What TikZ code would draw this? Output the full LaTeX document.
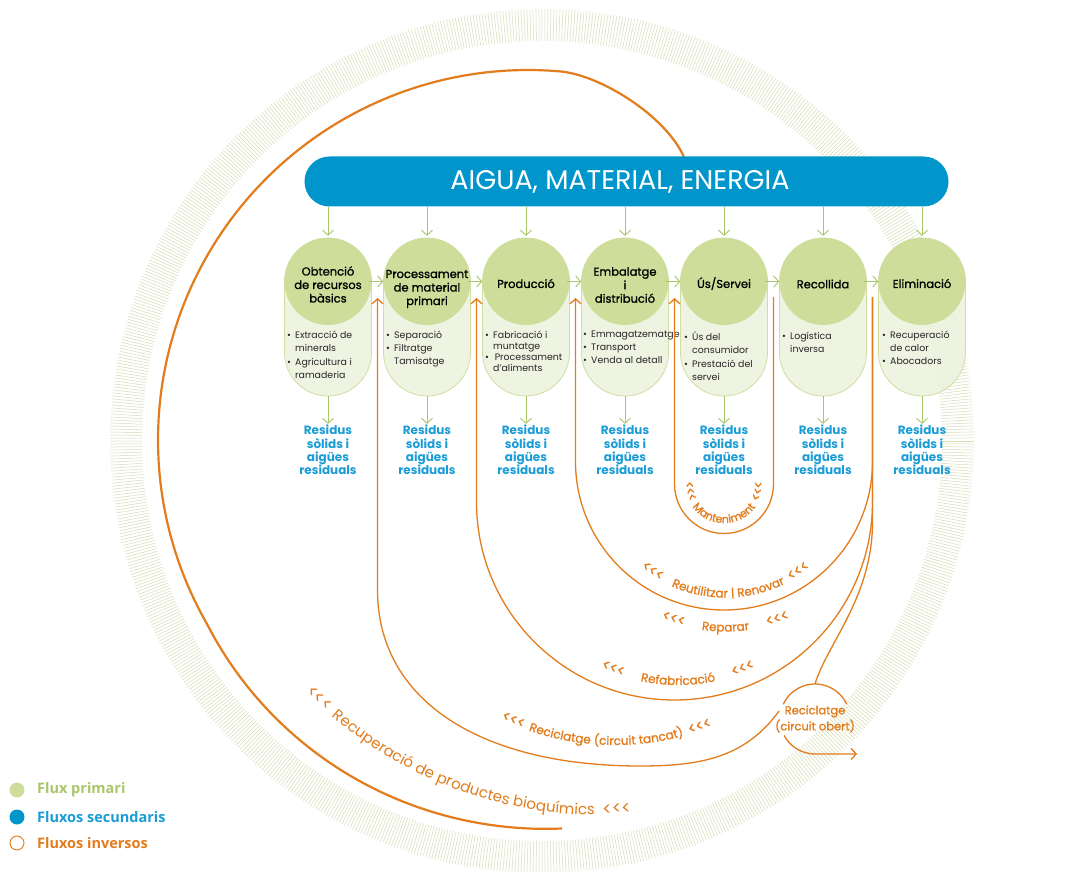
\documentclass[tikz,border=0pt]{standalone}
\usepackage{fontspec}
\setmainfont{Poppins}
\newfontfamily\pmed{Poppins}[FakeBold=1.1]
\newfontfamily\legendfont{Open Sans}
\usetikzlibrary{arrows.meta,decorations.text,calc}
\definecolor{cblue}{RGB}{0,150,204}
\definecolor{ctxtblue}{RGB}{26,156,214}
\definecolor{cgreen}{RGB}{206,222,154}
\definecolor{cpale}{RGB}{237,242,222}
\definecolor{cpaleline}{RGB}{208,222,160}
\definecolor{carrow}{RGB}{170,198,108}
\definecolor{corange}{RGB}{226,124,28}
\definecolor{cring}{RGB}{212,221,180}
\definecolor{clegend}{RGB}{168,199,104}
\newcommand{\mybul}{\makebox[8pt][l]{\textbullet}}
\newcommand{\mycont}{\hspace*{8pt}}
\newcommand{\olbl}{\pmed\fontsize{12}{12}\selectfont\color{corange}}
\newcommand{\olblb}{\pmed\fontsize{14.5}{14.5}\selectfont\color{corange}}
\newcommand{\mlbl}{\pmed\fontsize{11}{11}\selectfont\color{corange}}
\newcommand{\mlblb}{\pmed\fontsize{13}{13}\selectfont\color{corange}}
\newcommand{\biolbl}{\fontsize{15}{15}\selectfont\color{corange}}
\newcommand{\biolblb}{\fontsize{17.5}{17.5}\selectfont\color{corange}}
\begin{document}
\begin{tikzpicture}[x=1pt,y=-1pt,
  pill/.style={draw=cpaleline, line width=0.8pt, fill=cpale, fill opacity=0.85, rounded corners=43.5pt, minimum width=87pt, minimum height=158pt, inner sep=0pt},
  stagecirc/.style={circle, fill=cgreen, minimum size=87pt, inner sep=0pt},
  stitle/.style={align=center, font=\pmed\fontsize{11.5}{13.5}\selectfont, text=black, inner sep=0pt},
  blist/.style={align=left, anchor=north west, font=\fontsize{9.4}{13}\selectfont, text=black!85, inner sep=0pt},
  resid/.style={align=center, font=\fontsize{12}{13.4}\selectfont\bfseries, text=ctxtblue, inner sep=1pt},
  garrow/.style={draw=carrow, line width=0.9pt, -{Straight Barb[length=5pt,width=11pt]}},
  oline/.style={draw=corange, line width=1.3pt},
  oarrow/.style={oline, -{Straight Barb[length=5pt,width=11pt]}},
  othick/.style={draw=corange, line width=2.2pt},
  leg/.style={anchor=west, inner sep=0pt, font=\legendfont\bfseries\fontsize{14.5}{16}\selectfont},
  ]
\useasboundingbox (0,0) rectangle (1077,872);
\fill[white] (0,0) rectangle (1077,872);
% hatched ring
\foreach \i [evaluate=\i as \a using \i*0.4] in {0,...,899}
  \draw[cring, line width=0.5pt] ([shift={(\a:400)}]542,441) -- ([shift={(\a:432)}]542,441);

% coordinates
\coordinate (g1) at (377.5,298);
\coordinate (g2) at (476.5,298);
\coordinate (g3) at (575.5,298);
\coordinate (g4) at (674.5,298);
\coordinate (g5) at (773.5,297);
\coordinate (g6) at (872.5,297);
\coordinate (bartop) at (684,157);
\coordinate (tcs) at (779,711);
\coordinate (obtop) at (815,684);

% outer loop (spiral from bottom, round the left, to the bar)
\draw[othick] plot[domain=85:275, samples=120, variable=\t, smooth] ({528+(370+20*max(0,150-\t)/65)*cos(\t)},{440+(370+20*max(0,150-\t)/65)*sin(\t)}) .. controls (600,75) and (665,115) .. (bartop);

% blue bar
\node[fill=cblue, rounded corners=25pt, minimum width=644pt, minimum height=50pt, inner sep=0pt] (bar) at (626.5,181.5) {};
\node[text=white, font=\fontsize{27}{27}\selectfont, inner sep=0pt] (bartxt) at (620,182) {AIGUA, MATERIAL, ENERGIA};

% stages
\foreach \i/\c in {1/328,2/427,3/526,4/625,5/724,6/823,7/922} {
  \node[pill] (p\i) at (\c,317) {};
  \node[stagecirc] (s\i) at (\c,281.5) {};
  \node[resid] (r\i) at (\c,450) {Residus\\sòlids i\\aigües\\residuals};
  \draw[garrow] (p\i.south) -- (r\i.north);
  \draw[garrow] (bar.south -| s\i.north) -- ([yshift=2pt]s\i.north);
}
\foreach \i/\j in {1/2,2/3,3/4,4/5,5/6,6/7}
  \draw[garrow] ([xshift=-3pt]s\i.east) -- (s\j.west);

\node[stitle] (t1) at (328,284.5) {Obtenció\\de recursos\\bàsics};
\node[stitle] (t2) at (427,289) {Processament\\de material\\primari};
\node[stitle] (t3) at (526,283.5) {Producció};
\node[stitle] (t4) at (625,285) {Embalatge\\i\\distribució};
\node[stitle] (t5) at (724,283.5) {Ús/Servei};
\node[stitle] (t6) at (823,284) {Recollida};
\node[stitle] (t7) at (922,283.5) {Eliminació};

\node[blist] (b1) at (287,331) {\mybul Extracció de\\\mycont minerals\\[1pt]\mybul Agricultura i\\\mycont ramaderia};
\node[blist] (b2) at (386,331) {\mybul Separació\\\mybul Filtratge\\\mycont Tamisatge};
\node[blist, font=\fontsize{9.4}{10.8}\selectfont] (b3) at (485,331) {\mybul Fabricació i\\\mycont muntatge\\\mybul\,Processament\\\mycont d’aliments};
\node[blist] (b4) at (583,331) {\mybul Emmagatzematge\\\mybul Transport\\\mybul Venda al detall};
\node[blist] (b5) at (684,332) {\mybul Ús del\\\mycont consumidor\\[1pt]\mybul Prestació del\\\mycont servei};
\node[blist] (b6) at (782,332) {\mybul Logística\\\mycont inversa};
\node[blist] (b7) at (882,331) {\mybul Recuperació\\\mycont de calor\\\mybul Abocadors};

% reverse loops
\draw[oarrow] (g5) -- ++(0,187) arc[start angle=0,end angle=180,radius=49.5] -- (g4);
\draw[oarrow] (g6) -- ++(0,164.5) arc[start angle=0,end angle=180,radius=148.5] -- (g3);
\draw[oarrow] (g6) -- ++(0,205) arc[start angle=0,end angle=180,radius=198] -- (g2);
\draw[oline] (g6) -- ++(0,225) .. controls +(0,75) and +(12,-40) .. (obtop);
\draw[oarrow] (tcs) .. controls (745,758) and (700,766) .. (640,766) .. controls (480,766) and (377.5,700) .. (377.5,590) -- (g1);

% circuit obert
\node[align=center, text=corange, font=\pmed\fontsize{11.5}{16}\selectfont, inner sep=0pt] (obert) at (815,719) {Reciclatge\\(circuit obert)};
\draw[oline] ([shift={(205:35)}]obert.center) arc[start angle=205,end angle=335,radius=35];
\draw[oarrow] ([shift={(152:35)}]obert.center) arc[start angle=152,end angle=90,radius=35] -- ++(42,0);

% curved labels
\path[decorate,decoration={text along path, text align=center, text={|\mlblb|<<<|\mlbl|{\enspace}Manteniment{\enspace}|\mlblb|<<<}}] (685,452) -- (685,484) arc[start angle=180,end angle=0,radius=39] -- (763,452);
\path[decorate,decoration={text along path, text align=center, text={|\olblb|<<<|\olbl|{\enspace}{\enspace}Reutilitzar {\textbar} Renovar{\enspace}|\olblb|<<<}}] ([shift={(160:136)}]725.5,461.5) arc[start angle=160,end angle=20,radius=136];
\path[decorate,decoration={text along path, text align=center, text={|\olblb|<<<|\olbl|{\enspace}{\enspace}{\enspace}Reparar{\enspace}{\enspace}{\enspace}|\olblb|<<<}}] ([shift={(125:170)}]725.5,461.5) arc[start angle=125,end angle=55,radius=170];
\path[decorate,decoration={text along path, text align=center, text={|\olblb|<<<|\olbl|{\enspace}{\enspace}{\enspace}Refabricació{\enspace}{\enspace}{\enspace}|\olblb|<<<}}] ([shift={(125:183)}]678,502) arc[start angle=125,end angle=55,radius=183];
\path[decorate,decoration={text along path, text align=center, text={|\olblb|<<<|\olbl|{\enspace}Reciclatge (circuit tancat){\enspace}|\olblb|<<<}}] ([shift={(122:265)}]615,480) arc[start angle=122,end angle=62,radius=265];
\path[decorate,decoration={text along path, text align=center, text={|\biolblb|<<<|\biolbl|{\enspace}Recuperació de productes bioquímics{\enspace}|\biolblb|<<<}}] ([shift={(150:415)}]600,400) arc[start angle=150,end angle=71,radius=415];

% legend
\node[circle, fill=cgreen, minimum size=15pt, inner sep=0pt] (lc1) at (17,790) {};
\node[leg, text=clegend] (lt1) at (37,790) {Flux primari};
\node[circle, fill=cblue, minimum size=15pt, inner sep=0pt] (lc2) at (17,817) {};
\node[leg, text=ctxtblue] (lt2) at (37,817) {Fluxos secundaris};
\node[circle, draw=corange, line width=0.9pt, fill=white, minimum size=14pt, inner sep=0pt] (lc3) at (17,843) {};
\node[leg, text=corange] (lt3) at (37,843) {Fluxos inversos};
\end{tikzpicture}
\end{document}
